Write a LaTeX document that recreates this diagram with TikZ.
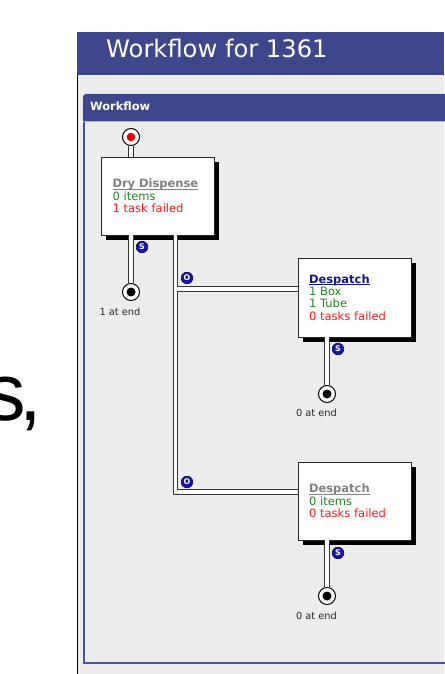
\documentclass[tikz,border=0pt]{standalone}
\usepackage{fontspec}
\setmainfont{DejaVu Sans}
\newfontfamily\arialfont{Liberation Sans}
\usetikzlibrary{shadows}
\definecolor{hdrblue}{RGB}{61,71,139}
\definecolor{panelblue}{RGB}{72,82,160}
\definecolor{hdrline}{RGB}{170,178,215}
\definecolor{bggrey}{RGB}{237,237,237}
\definecolor{okgreen}{RGB}{34,130,34}
\definecolor{failred}{RGB}{255,25,25}
\definecolor{linkgrey}{RGB}{128,128,128}
\definecolor{linknavy}{RGB}{20,20,140}
\definecolor{badgeblue}{RGB}{20,20,175}
\newcommand\ulx[1]{\setbox0\hbox{#1}\rlap{\rule[-2pt]{\wd0}{0.9pt}}\box0}
\begin{document}
\begin{tikzpicture}[x=1pt,y=-1pt,
  wbox/.style={draw=black!85, fill=white, line width=0.8, minimum width=113, minimum height=78,
    text width=91, inner xsep=11, inner ysep=0, align=left,
    drop shadow={shadow xshift=4.5pt, shadow yshift=-4.5pt, fill=black, opacity=1},
    font=\fontsize{11.5}{12.3}\selectfont},
  wireout/.style={draw=black!80, line width=5.5},
  wirein/.style={draw=white, line width=3.5},
  startc/.style={circle, draw=black, line width=1, fill=white, minimum size=17, inner sep=0,
    path picture={\fill[red!90!black] (path picture bounding box.center) circle[radius=4.3pt];}},
  endc/.style={circle, draw=black, line width=1, fill=white, minimum size=17, inner sep=0,
    path picture={\fill[black] (path picture bounding box.center) circle[radius=4.5pt];}},
  badge/.style={circle, draw=black!60!badgeblue, line width=0.6, fill=badgeblue, minimum size=11.6, inner sep=0,
    text=white, font=\bfseries\fontsize{7.8}{8}\selectfont},
  endlbl/.style={anchor=base, font=\fontsize{9.8}{11}\selectfont, text=black!85}
]
\useasboundingbox (0,0) rectangle (444,674);
\fill[white] (0,0) rectangle (444,674);
% left text fragment
\node[anchor=base west, inner sep=0, font=\arialfont\fontsize{81}{90}\selectfont] (frag) at (-15,420) {s\kern-6pt,};
% outer panel
\fill[bggrey] (77,75) rectangle (444,674);
\fill[hdrblue] (77,32) rectangle (444,75);
\draw[black, line width=1.2] (77.6,75) -- (77.6,674);
\node[anchor=base west, inner sep=0, text=white, font=\fontsize{24.2}{26}\selectfont] (title) at (106,58) {Workflow for 1361};
% inner panel
\fill[hdrblue] (83,121) [rounded corners=3] -- (83,94) [sharp corners] -- (450,94) -- (450,121) -- cycle;
\draw[hdrline, line width=1] (83,121.5) -- (450,121.5);
\draw[panelblue, line width=2] (84,122) -- (84,663) -- (450,663);
\node[anchor=base west, inner sep=0, text=white, font=\bfseries\fontsize{11.4}{13}\selectfont] (wf) at (90,110.7) {Workflow};
% circles
\node[startc] (st) at (131,137) {};
\node[endc] (e1) at (131,292) {};
\node[endc] (e2) at (327,394) {};
\node[endc] (e3) at (327,596) {};
% boxes
\node[wbox] (dd) at (158,196) {\textcolor{linkgrey}{\bfseries\ulx{Dry Dispense}}\\ \textcolor{okgreen}{0 items}\\ \textcolor{failred}{1 task failed}};
\node[wbox, minimum height=79] (d1) at (354.5,297.5) {\textcolor{linknavy}{\bfseries\ulx{Despatch}}\\ \textcolor{okgreen}{1 Box}\\ \textcolor{okgreen}{1 Tube}\\ \textcolor{failred}{0 tasks failed}};
\node[wbox] (d2) at (354.5,501) {\textcolor{linkgrey}{\bfseries\ulx{Despatch}}\\ \textcolor{okgreen}{0 items}\\ \textcolor{failred}{0 tasks failed}};
% wires
\coordinate (j1) at (175.5,289);
\coordinate (j2) at (175.5,492);
\def\wirepaths#1{%
  \draw[#1] (st.south) -- (st |- dd.north);
  \draw[#1] (dd.south -| e1) -- (e1.north);
  \draw[#1] (dd.south -| j2) -- (j2) -- (j2 -| d2.west);
  \draw[#1] (j1) -- (j1 -| d1.west);
  \draw[#1] (d1.south -| e2) -- (e2.north);
  \draw[#1] (d2.south -| e3) -- (e3.north);
}
\wirepaths{wireout}
\wirepaths{wirein}
% badges
\node[badge] (s1) at (142,247) {S};
\node[badge] (s2) at (338,349) {S};
\node[badge] (s3) at (338,553) {S};
\node[badge] (o1) at (187,278) {O};
\node[badge] (o2) at (187,482) {O};
% end labels
\node[endlbl] (l1) at (120,315) {1 at end};
\node[endlbl] (l2) at (316.5,416.7) {0 at end};
\node[endlbl] (l3) at (316.5,619) {0 at end};
\end{tikzpicture}
\end{document}
